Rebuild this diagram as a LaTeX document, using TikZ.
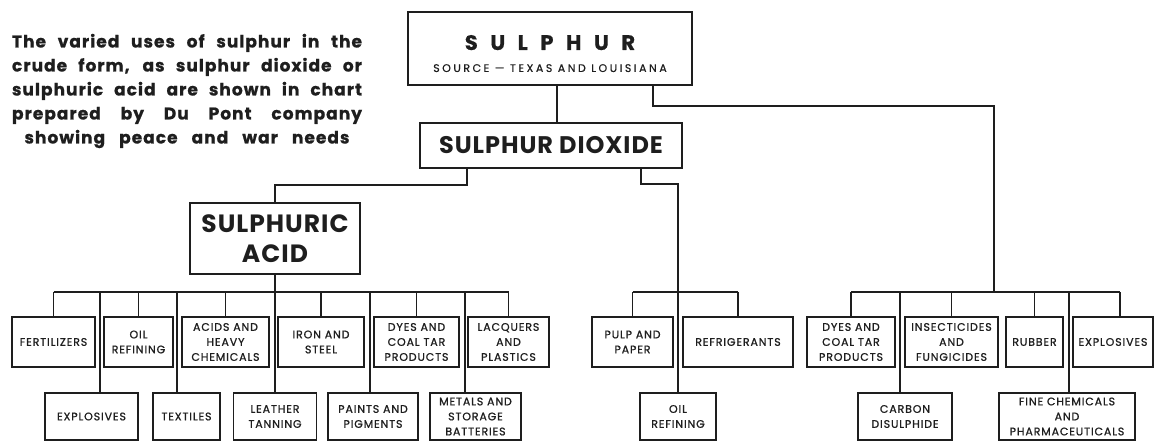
\documentclass[tikz,border=0pt]{standalone}
\usepackage{fontspec}
\setmainfont{Poppins}
\newfontfamily\spacedfont{Poppins}[LetterSpace=60,FakeBold=0.8]
\newfontfamily\widefont{Poppins}[LetterSpace=23,FakeBold=0.6]
\newfontfamily\headfont{Poppins}[LetterSpace=4]
\newfontfamily\notefont{Poppins}[LetterSpace=6,FakeBold=0.8]
\newfontfamily\labelfont{Poppins}[LetterSpace=8,FakeBold=1]
\usetikzlibrary{positioning,calc}
\definecolor{inkblack}{HTML}{1E1E1E}

\begin{document}
\begin{tikzpicture}[x=1pt,y=-1pt,line width=1.8pt,color=inkblack,
  box/.style={draw,line width=1.6pt,inner sep=0pt,align=center,font=\labelfont\fontsize{11}{15}\selectfont},
  uprow/.style={box,minimum height=50pt},
  lowrow/.style={box,minimum height=47pt},
  headbox/.style={draw,inner sep=0pt,align=center,font=\headfont\bfseries}]
  \useasboundingbox (0,0) rectangle (1154,441);
  \node[text width=350pt,align=justify,font=\notefont\bfseries\fontsize{17}{24}\selectfont] (note) at (187,91) {\parfillskip=0pt The varied uses of sulphur in the\linebreak crude form, as sulphur dioxide or\linebreak sulphuric acid are shown in chart\linebreak prepared by Du Pont company\linebreak\hspace*{\fill}\makebox[325pt][s]{showing peace and war needs}\hspace*{\fill}\par};
  \node[headbox,line width=2.6pt,minimum width=284pt,minimum height=73pt] (sulphur) at (550,48.5) {\rule{0pt}{25pt}{\spacedfont\bfseries\fontsize{21}{21}\selectfont SULPHUR}\\[10pt]{\widefont\mdseries\fontsize{11}{11}\selectfont SOURCE — TEXAS AND LOUISIANA}};
  \node[headbox,line width=2.2pt,minimum width=262pt,minimum height=45pt,font=\headfont\bfseries\fontsize{24}{24}\selectfont] (dioxide) at (551,145.5) {SULPHUR DIOXIDE};
  \node[headbox,line width=2.2pt,minimum width=170pt,minimum height=71pt,font=\headfont\bfseries\fontsize{25}{30}\selectfont] (acid) at (275,238.5) {SULPHURIC\\ACID};
  \node[uprow,minimum width=83pt] (fert) at (53.5,342) {FERTILIZERS};
  \node[uprow,minimum width=69pt] (oilA) at (138.5,342) {OIL\\REFINING};
  \node[uprow,minimum width=87pt] (acids) at (225.5,342) {ACIDS AND\\HEAVY\\CHEMICALS};
  \node[uprow,minimum width=86pt] (iron) at (321,342) {IRON AND\\STEEL};
  \node[uprow,minimum width=85pt] (dyesA) at (416.5,342) {DYES AND\\COAL TAR\\PRODUCTS};
  \node[uprow,minimum width=81pt] (lacq) at (508.5,342) {LACQUERS\\AND\\PLASTICS};
  \node[lowrow,minimum width=93pt] (explA) at (91.5,416.5) {EXPLOSIVES};
  \node[lowrow,minimum width=67pt] (textiles) at (186.5,416.5) {TEXTILES};
  \node[lowrow,minimum width=83pt] (leather) at (275,416.5) {LEATHER\\TANNING};
  \node[lowrow,minimum width=90pt] (paints) at (373,416.5) {PAINTS AND\\PIGMENTS};
  \node[lowrow,minimum width=91pt] (metals) at (475.5,416.5) {METALS AND\\STORAGE\\BATTERIES};
  \node[uprow,minimum width=81pt] (pulp) at (632.5,342) {PULP AND\\PAPER};
  \node[uprow,minimum width=110pt] (refrig) at (738,342) {REFRIGERANTS};
  \node[lowrow,minimum width=76pt] (oilM) at (678,416.5) {OIL\\REFINING};
  \node[uprow,minimum width=88pt] (dyesB) at (851,342) {DYES AND\\COAL TAR\\PRODUCTS};
  \node[uprow,minimum width=93pt] (insect) at (951.5,342) {INSECTICIDES\\AND\\FUNGICIDES};
  \node[uprow,minimum width=57pt] (rubber) at (1034.5,342) {RUBBER};
  \node[uprow,minimum width=80pt] (explB) at (1113,342) {EXPLOSIVES};
  \node[lowrow,minimum width=94pt] (carbon) at (905,416.5) {CARBON\\DISULPHIDE};
  \node[lowrow,minimum width=136pt] (fine) at (1067,416.5) {FINE CHEMICALS\\AND\\PHARMACEUTICALS};
  \coordinate (busL) at (275,292);
  \coordinate (busM) at (678,292);
  \coordinate (busR) at (994,292);
  \draw ([xshift=7pt]sulphur.south) -- ([xshift=7pt]sulphur.south |- dioxide.north);
  \draw ([xshift=103pt]sulphur.south) -- ++(0,20) -| (busR);
  \draw ([xshift=-84pt]dioxide.south) -- ++(0,16) -| (acid.north);
  \draw ([xshift=90pt]dioxide.south) -- ++(0,15) -| (oilM.north);
  \draw (acid.south) -- (leather.north);
  \draw (fert.north |- busL) -- (lacq.north |- busL);
  \draw (pulp.north |- busM) -- (refrig.north |- busM);
  \draw (dyesB.north |- busR) -- ([xshift=7pt]explB.north |- busR);
  \foreach \n in {fert,oilA,acids,iron,dyesA,lacq}{\draw (\n.north) -- (\n.north |- busL);}
  \foreach \n in {pulp,refrig}{\draw (\n.north) -- (\n.north |- busM);}
  \foreach \n in {dyesB,insect,rubber}{\draw (\n.north) -- (\n.north |- busR);}
  \foreach \n/\s in {explA/8.5,textiles/-9.5,paints/-3,metals/-10.5}{\draw ([xshift=\s pt]\n.north) -- ([xshift=\s pt]\n.north |- busL);}
  \foreach \n/\s in {explB/7,carbon/-5,fine/2}{\draw ([xshift=\s pt]\n.north) -- ([xshift=\s pt]\n.north |- busR);}
\end{tikzpicture}
\end{document}
